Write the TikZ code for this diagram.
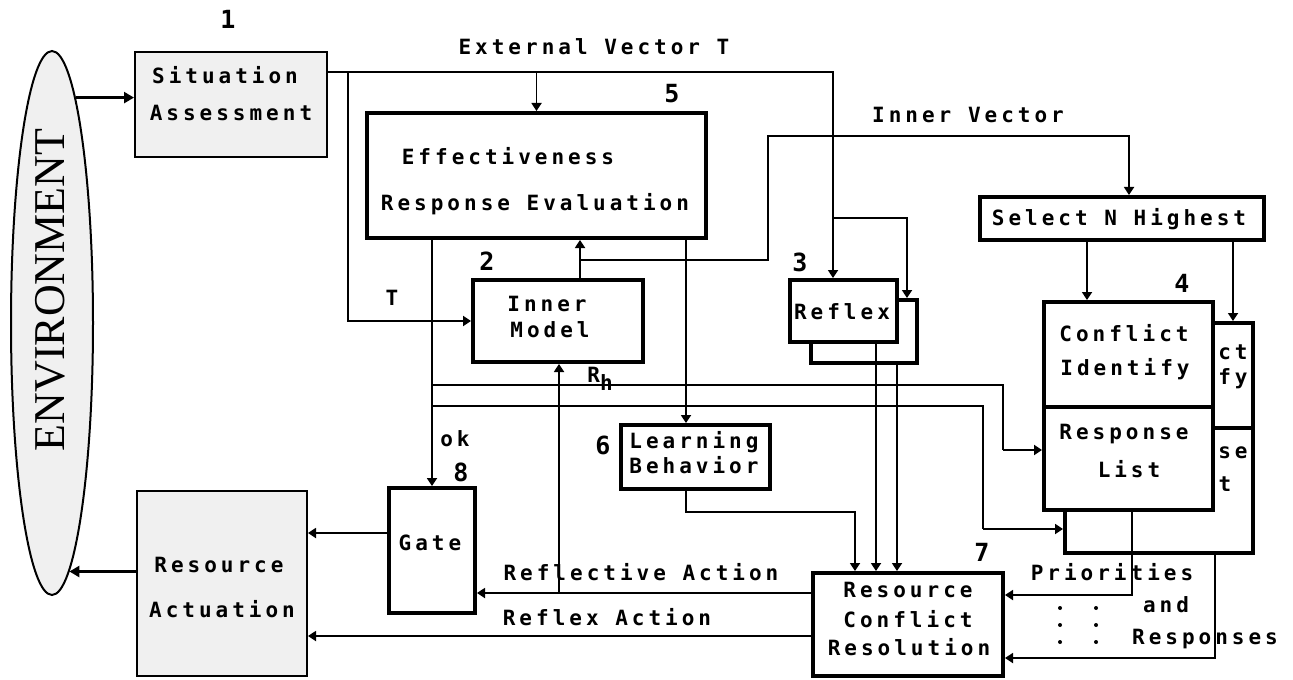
\documentclass[tikz,border=0pt]{standalone}
\usepackage{fontspec}
\newfontfamily\pix[LetterSpace=19]{DejaVu Sans Mono}
\newfontfamily\envfont{Liberation Serif}
\usetikzlibrary{arrows.meta,shapes.geometric,fit}
\begin{document}
\begin{tikzpicture}[x=0.5pt,y=-0.5pt,
  thinbox/.style={draw, line width=1pt, fill=black!6, inner sep=0pt},
  thickbox/.style={draw, line width=2pt, fill=white, inner sep=0pt},
  txt/.style={font=\pix\bfseries\fontsize{10.5}{11}\selectfont, inner sep=0pt, text height=7.6pt, text depth=0pt},
  num/.style={font=\pix\bfseries\fontsize{12.5}{12}\selectfont, inner sep=0pt, text height=9pt, text depth=0pt},
  ln/.style={line width=0.9pt},
  arr/.style={ln, -{Triangle[length=4pt,width=5pt]}},
  bigarr/.style={line width=1.6pt, -{Triangle[length=5pt,width=5.5pt]}},
]
\useasboundingbox (0,0) rectangle (1293,679);

% environment
\node[ellipse, draw, line width=1pt, fill=black!6, minimum width=41pt, minimum height=272pt, inner sep=0pt] (env) at (52,323) {};
\node[font=\envfont\fontsize{22}{22}\selectfont, rotate=90, inner sep=0pt] (envt) at (50,290) {ENVIRONMENT};

% boxes
\node[thinbox, fit={(135,52) (327,157)}] (sa) {};
\node[thickbox, fit={(367,113) (706,238)}] (ere) {};
\node[thickbox, fit={(473,280) (643,362)}] (im) {};
\node[thickbox, fit={(811,300) (917,363)}] (rfb) {};
\node[thickbox, fit={(790,280) (897,342)}] (rf) {};
\node[thickbox, fit={(980,197) (1264,240)}] (sel) {};
\node[thickbox, fit={(1065,323) (1253,553)}] (cb) {};
\draw[line width=2pt] (1213,428) -- (1253,428);
\node[thickbox, fit={(1044,302) (1213,407)}] (ci) {};
\node[thickbox, fit={(1044,407) (1213,510)}] (rl) {};
\node[thickbox, fit={(621,425) (770,489)}] (lb) {};
\node[thickbox, fit={(813,573) (1003,676)}] (rcr) {};
\node[thickbox, fit={(389,488) (475,613)}] (gate) {};
\node[thinbox, fit={(137,491) (307,676)}] (ra) {};

% coordinates
\coordinate (evR) at (833,72);
\coordinate (tL) at (348,72);
\coordinate (rb) at (833,218);
\coordinate (rb2) at (907,218);
\coordinate (iv0) at (580,260);
\coordinate (iv1) at (768,136);
\coordinate (iv2) at (1129,136);
\coordinate (s1) at (1087,260);
\coordinate (s2) at (1233,260);
\coordinate (rhA) at (432,385);
\coordinate (rhB) at (1003,385);
\coordinate (rhC) at (1003,450);
\coordinate (okA) at (432,406);
\coordinate (okB) at (983,406);
\coordinate (okC) at (983,529);
\coordinate (lbA) at (686,512);
\coordinate (lbB) at (855,512);
\coordinate (rx1) at (876,400);
\coordinate (rx2) at (897,400);
\coordinate (reflA) at (559,593);
\coordinate (rxA) at (700,636);
\coordinate (gA) at (350,533);
\coordinate (p1) at (1132,595);
\coordinate (p2) at (1215,658);

% connectors
\draw[bigarr] (env.84.6) -- (env.84.6 -| sa.west);
\draw[bigarr] (ra.west |- env.-86.3) -- (env.-86.3);
\draw[arr] (sa.east |- evR) -- (evR) -- (evR |- rf.north);
\draw[arr] (tL) |- (im.west);
\draw[arr] (ere.north |- evR) -- (ere.north);
\draw[arr] (rb) -- (rb2) -- (rb2 |- rfb.north);
\draw[arr] (iv0 |- im.north) -- (iv0 |- ere.south);
\draw[arr] (iv0) -| (iv1) -- (iv2) -- (iv2 |- sel.north);
\draw[arr] (s1 |- sel.south) -- (s1 |- ci.north);
\draw[arr] (s2 |- sel.south) -- (s2 |- cb.north);
\draw[arr] (gate.north |- ere.south) -- (gate.north);
\draw[ln] (rhA) -- (rhB) -- (rhC);
\draw[arr] (rhC) -- (rhC -| rl.west);
\draw[ln] (okA) -- (okB) -- (okC);
\draw[arr] (okC) -- (okC -| cb.west);
\draw[arr] (lbA |- ere.south) -- (lbA |- lb.north);
\draw[arr] (lbA |- lb.south) -- (lbA) -- (lbB) -- (lbB |- rcr.north);
\draw[arr] (rx1 |- rf.south) -- (rx1 |- rcr.north);
\draw[arr] (rx2 |- rfb.south) -- (rx2 |- rcr.north);
\draw[arr] (rcr.west |- reflA) -- (reflA -| gate.east);
\draw[arr] (reflA) -- (reflA |- im.south);
\draw[arr] (rcr.west |- rxA) -- (rxA -| ra.east);
\draw[arr] (gA -| gate.west) -- (gA -| ra.east);
\draw[arr] (p1 |- rl.south) -- (p1) -- (p1 -| rcr.east);
\draw[arr] (p2 |- cb.south) -- (p2) -- (p2 -| rcr.east);

% numbers
\node[num] (n1) at (228,20) {1};
\node[num] (n5) at (672,94) {5};
\node[num] (n2) at (487,261) {2};
\node[num] (n3) at (800,262) {3};
\node[num] (n4) at (1182,283) {4};
\node[num] (n6) at (603,445) {6};
\node[num] (n7) at (982,552) {7};
\node[num] (n8) at (461,472) {8};

% texts
\node[txt] (t-ev) at (594,47) {External Vector T};
\node[txt] (t-iv) at (968,115) {Inner Vector};
\node[txt] (t-T) at (392,298) {T};
\node[txt] (t-ok) at (455,439) {ok};
\node[txt] (t-rh) at (600,375) {R\raisebox{-4pt}{h}};
\node[txt] (t-refl) at (641,573) {Reflective Action};
\node[txt] (t-rx) at (607,618) {Reflex Action};
\node[txt] (t-pr) at (1112,573) {Priorities};
\node[txt] (t-and) at (1166,605) {and};
\node[txt] (t-resp) at (1205,637) {Responses};
\foreach \dx in {1060,1096} \foreach \dy in {608,625,642} \fill (\dx,\dy) circle (2);

\node[txt] (t-sa1) at (225,76) {Situation};
\node[txt] (t-sa2) at (231,113) {Assessment};
\node[txt] (t-e1) at (508,157) {Effectiveness};
\node[txt] (t-e2) at (535,203) {Response Evaluation};
\node[txt] (t-im1) at (547,304) {Inner};
\node[txt] (t-im2) at (550,330) {Model};
\node[txt] (t-rf) at (842,312) {Reflex};
\node[txt] (t-sel) at (1119,218) {Select N Highest};
\node[txt] (t-ci1) at (1124,334) {Conflict};
\node[txt] (t-ci2) at (1125,368) {Identify};
\node[txt] (t-rl1) at (1124,432) {Response};
\node[txt] (t-rl2) at (1129,470) {List};
\node[txt] (t-ct) at (1233,352) {ct};
\node[txt] (t-fy) at (1233,377) {fy};
\node[txt] (t-se) at (1233,451) {se};
\node[txt] (t-t) at (1225,484) {t};
\node[txt] (t-lb1) at (694,441) {Learning};
\node[txt] (t-lb2) at (694,466) {Behavior};
\node[txt] (t-r1) at (908,590) {Resource};
\node[txt] (t-r2) at (908,620) {Conflict};
\node[txt] (t-r3) at (909,648) {Resolution};
\node[txt] (t-gate) at (430,543) {Gate};
\node[txt] (t-ra1) at (219,565) {Resource};
\node[txt] (t-ra2) at (222,610) {Actuation};
\end{tikzpicture}
\end{document}
